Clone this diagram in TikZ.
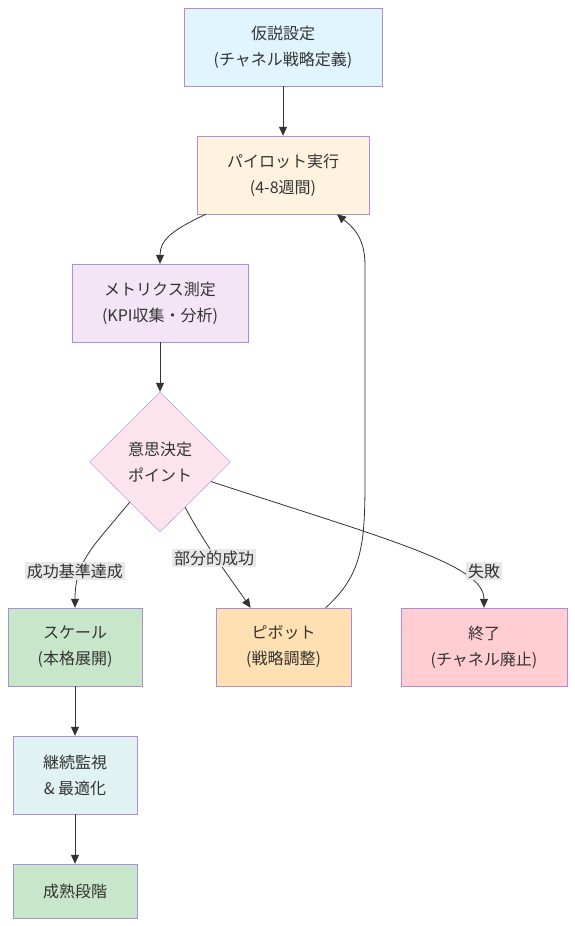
\documentclass[tikz,border=0pt]{standalone}
\usepackage{fontspec}
\setmainfont{Noto Sans CJK JP}
\usetikzlibrary{arrows.meta,shapes.geometric}

\definecolor{boxline}{RGB}{170,142,218}
\definecolor{ink}{RGB}{51,51,51}
\definecolor{lblbg}{RGB}{232,232,232}
\definecolor{hypfill}{HTML}{E1F5FE}
\definecolor{pilotfill}{HTML}{FFF3E0}
\definecolor{metfill}{HTML}{F3E5F5}
\definecolor{decfill}{HTML}{FCE4EC}
\definecolor{scalefill}{HTML}{C8E6C9}
\definecolor{pivfill}{HTML}{FFE0B2}
\definecolor{endfill}{HTML}{FFCDD2}
\definecolor{monfill}{HTML}{E0F2F1}

\tikzset{
	box/.style={draw=boxline, fill=#1, align=center, text=ink, inner sep=0pt,
		font=\fontsize{16}{26}\selectfont},
	lbl/.style={fill=lblbg, text=ink, inner sep=2pt, font=\fontsize{16}{18}\selectfont},
	arr/.style={draw=ink, line width=0.8pt, -{Triangle[length=9pt,width=8pt]}}
}

\begin{document}
\begin{tikzpicture}[x=1pt,y=-1pt]

		\useasboundingbox (0,0) rectangle (575,926);

		\coordinate (Hp) at (283,47);
		\coordinate (Pl) at (283,175);
		\coordinate (Me) at (160,303);
		\coordinate (De) at (160,462);
		\coordinate (Sc) at (75,647);
		\coordinate (Pv) at (283.5,647);
		\coordinate (En) at (484,647);
		\coordinate (Mo) at (75,775);
		\coordinate (Ma) at (75,891);

		\node [box=hypfill, minimum width=198, minimum height=78] (hyp) at (Hp) {仮説設定\\(チャネル戦略定義)};
		\node [box=pilotfill, minimum width=172, minimum height=78] (pilot) at (Pl) {パイロット実行\\(4-8週間)};
		\node [box=metfill, minimum width=176, minimum height=78] (metrics) at (Me) {メトリクス測定\\(KPI収集・分析)};
		\node [box=decfill, shape=diamond, minimum width=141, minimum height=140] (decision) at (De) {意思決定\\ポイント};
		\node [box=scalefill, minimum width=134, minimum height=78] (scale) at (Sc) {スケール\\(本格展開)};
		\node [box=pivfill, minimum width=135, minimum height=78] (pivot) at (Pv) {ピボット\\(戦略調整)};
		\node [box=endfill, minimum width=166, minimum height=78] (endn) at (En) {終了\\(チャネル廃止)};
		\node [box=monfill, minimum width=124, minimum height=78] (monitor) at (Mo) {継続監視\\\& 最適化};
		\node [box=scalefill, minimum width=124, minimum height=54] (mature) at (Ma) {成熟段階};

		\draw [arr] (hyp) -- (pilot);
		\draw [arr] (pilot.207) .. controls (172,230) and (160,240) .. (metrics.north);
		\draw [arr] (metrics) -- (decision);
		\draw [arr] (decision.233) .. controls (95,545) and (75,560) .. (scale.north);
		\draw [arr] (decision.-61) .. controls (205,545) and (235,585) .. (pivot.130);
		\draw [arr] (decision.-21) .. controls (390,540) and (484,565) .. (endn.north);
		\draw [arr] (pivot.43) .. controls (362,575) and (365,545) .. (365,480)
			-- (365,265) .. controls (365,235) and (350,225) .. (pilot.-36);
		\draw [arr] (scale) -- (monitor);
		\draw [arr] (monitor) -- (mature);

		\node [lbl] (lscale) at (75,571) {成功基準達成};
		\node [lbl] (lpivot) at (214,558) {部分的成功};
		\node [lbl] (lend) at (484,571) {失敗};

\end{tikzpicture}
\end{document}
